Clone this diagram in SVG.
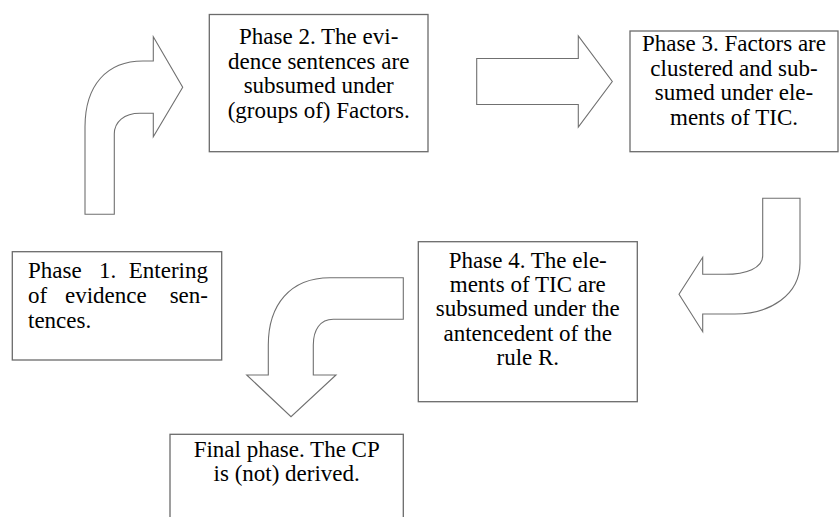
<svg xmlns="http://www.w3.org/2000/svg" width="839" height="517" viewBox="0 0 839 517">
<rect width="839" height="517" fill="#fff"/>
<g id="connectors" fill="#fff" stroke="#707070" stroke-width="1.1">
<path id="arrow1" d="M85,214.3 L85,127 C85,85 107,61 143,61 L153.3,61 L153.3,36.7 L182.7,87.3 L153.3,136.7 L153.3,113.3 L140,113.3 C124,113.3 114.3,122 114.3,134 L114.3,214.3 Z"/>
<path id="arrow2" d="M476.7,58.5 L578.3,58.5 L578.3,36 L612.3,81.5 L578.3,127 L578.3,104.5 L476.7,104.5 Z"/>
<path id="arrow3" d="M762.7,198.3 L800,198.3 L800,263 C800,295 770,314 735,314 L702.7,314 L702.7,331.7 L679,294.3 L702.7,257.3 L702.7,274.3 L725,274.3 C746,274.3 762.7,268 762.7,256 Z"/>
<path id="arrow4" d="M403.3,277.7 L330,277.7 C290,277.7 268.3,305 268.3,345 L268.3,375 L246.7,375 L291,416.7 L336,375 L313.3,375 L313.3,345 C313.3,330 320,319.3 333.3,319.3 L403.3,319.3 Z"/>
</g>
<g id="phase1">
<rect x="12.3" y="251.7" width="209.4" height="108.3" fill="#fff" stroke="#6b6b6b" stroke-width="1.3"/>
<text y="278" style="font-family:'Liberation Serif';font-size:23px"><tspan x="28">Phase</tspan><tspan x="99">1.</tspan><tspan x="208" text-anchor="end">Entering</tspan></text>
<text y="303" style="font-family:'Liberation Serif';font-size:23px"><tspan x="28">of</tspan><tspan x="65">evidence</tspan><tspan x="208" text-anchor="end">sen-</tspan></text>
<text x="28" y="328" style="font-family:'Liberation Serif';font-size:23px">tences.</text>
</g>
<g id="phase2">
<rect x="209.3" y="14.5" width="218.7" height="137.2" fill="#fff" stroke="#6b6b6b" stroke-width="1.3"/>
<text x="318.7" y="44" text-anchor="middle" style="font-family:'Liberation Serif';font-size:23px">Phase 2. The evi-</text>
<text x="318.7" y="68.5" text-anchor="middle" style="font-family:'Liberation Serif';font-size:23px">dence sentences are</text>
<text x="318.7" y="93" text-anchor="middle" style="font-family:'Liberation Serif';font-size:23px">subsumed under</text>
<text x="318.7" y="117.5" text-anchor="middle" style="font-family:'Liberation Serif';font-size:23px">(groups of) Factors.</text>
</g>
<g id="phase3">
<rect x="630" y="31" width="208" height="120.7" fill="#fff" stroke="#6b6b6b" stroke-width="1.3"/>
<text x="734" y="51" text-anchor="middle" style="font-family:'Liberation Serif';font-size:23px">Phase 3. Factors are</text>
<text x="734" y="75.5" text-anchor="middle" style="font-family:'Liberation Serif';font-size:23px">clustered and sub-</text>
<text x="734" y="100" text-anchor="middle" style="font-family:'Liberation Serif';font-size:23px">sumed under ele-</text>
<text x="734" y="124.5" text-anchor="middle" style="font-family:'Liberation Serif';font-size:23px">ments of TIC.</text>
</g>
<g id="phase4">
<rect x="418.3" y="241.7" width="219" height="160" fill="#fff" stroke="#6b6b6b" stroke-width="1.3"/>
<text x="527.8" y="268" text-anchor="middle" style="font-family:'Liberation Serif';font-size:23px">Phase 4. The ele-</text>
<text x="527.8" y="292" text-anchor="middle" style="font-family:'Liberation Serif';font-size:23px">ments of TIC are</text>
<text x="527.8" y="316" text-anchor="middle" style="font-family:'Liberation Serif';font-size:23px">subsumed under the</text>
<text x="527.8" y="340.5" text-anchor="middle" style="font-family:'Liberation Serif';font-size:23px">antencedent of the</text>
<text x="527.8" y="365" text-anchor="middle" style="font-family:'Liberation Serif';font-size:23px">rule R.</text>
</g>
<g id="final">
<rect x="170" y="434.3" width="233.3" height="100" fill="#fff" stroke="#6b6b6b" stroke-width="1.3"/>
<text x="286.7" y="457" text-anchor="middle" style="font-family:'Liberation Serif';font-size:23px">Final phase. The CP</text>
<text x="286.7" y="481" text-anchor="middle" style="font-family:'Liberation Serif';font-size:23px">is (not) derived.</text>
</g>
</svg>
